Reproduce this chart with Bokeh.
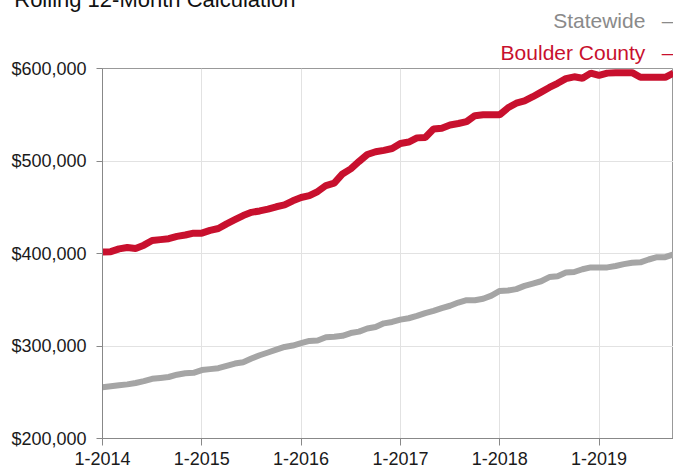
from bokeh.plotting import figure
from bokeh.models import ColumnDataSource, FixedTicker, NumeralTickFormatter, Range1d, Title
from bokeh.embed import file_html
from bokeh.resources import INLINE

# Month index 0 = Jan 2014 ... 69 = Oct 2019
months = list(range(70))

boulder = [401.5, 402, 405, 406.5, 405.5, 409, 414, 415, 416, 418.5,
           420, 422, 422, 425, 427, 432, 436.5, 441, 444.5, 446,
           448, 450.5, 452.5, 457, 460.5, 462.5, 467, 473.5, 476, 486,
           491.5, 499.5, 507, 510, 511.5, 513.5, 519, 520.5, 525, 525.5,
           534.5, 535.5, 539, 540.5, 542.5, 549, 550, 550, 550, 557.5,
           562.5, 565, 569.5, 574.5, 579.5, 584, 589, 591, 589.5, 595,
           592.5, 595, 595.5, 595.5, 595.5, 590.5, 590.5, 590.5, 590.5, 595]

statewide = [255.5, 256.5, 257.5, 258.5, 260, 262, 264.5, 265.5, 266.5, 269,
             270.5, 271, 274, 275, 276, 278.5, 281, 282.5, 286.5, 290,
             293, 296, 299, 300.5, 303, 305.5, 306, 309.5, 310, 311,
             314, 315.5, 319, 320.5, 324.5, 326, 328.5, 330, 332.5, 335.5,
             338, 341, 343.5, 347, 349.5, 349.5, 351, 354.5, 359.5, 360,
             361.5, 365, 367.5, 370, 374.5, 375.5, 379.5, 380, 383, 385,
             385, 385, 386.5, 388.5, 390, 390.5, 393.5, 396, 396, 399]

x_ticks = [0, 12, 24, 36, 48, 60]
x_tick_labels = ["1-2014", "1-2015", "1-2016", "1-2017", "1-2018", "1-2019"]
y_ticks = [200000, 300000, 400000, 500000, 600000]

title_text = "Rolling 12-Month Calculation"
series_names = ["Statewide", "Boulder County"]

RED = "#c8102e"
GRAY = "#a5a5a5"
LEGEND_GRAY = "#8a8a8a"
FONT = "Liberation Sans"
DASH_GAP = "\u2002\u2009\u200a"

src = ColumnDataSource(dict(
    m=months,
    boulder=[v * 1000 for v in boulder],
    state=[v * 1000 for v in statewide],
))

p = figure(width=673, height=468, output_backend="svg", toolbar_location=None,
           x_range=Range1d(0, 69), y_range=Range1d(200000, 600000),
           min_border_left=102, min_border_right=0, min_border_top=68,
           min_border_bottom=30)
p.background_fill_color = "white"
p.border_fill_color = "white"
p.outline_line_color = "#999999"
p.outline_line_width = 1

p.line("m", "state", source=src, line_color=GRAY, line_width=6)
p.line("m", "boulder", source=src, line_color=RED, line_width=7)

p.xaxis.ticker = FixedTicker(ticks=x_ticks)
p.xaxis.major_label_overrides = {t: l for t, l in zip(x_ticks, x_tick_labels)}
p.yaxis.ticker = FixedTicker(ticks=y_ticks)
p.yaxis.formatter = NumeralTickFormatter(format="$0,0")
for ax in (p.xaxis[0], p.yaxis[0]):
    ax.axis_line_color = "#888888"
    ax.major_tick_line_color = "#888888"
    ax.major_tick_in = 0
    ax.minor_tick_line_color = None
    ax.major_label_text_font = FONT
    ax.major_label_text_font_size = "18px"
    ax.major_label_text_color = "#1a1a1a"
p.yaxis.major_tick_out = 6
p.yaxis.major_label_standoff = 10
p.xaxis.major_tick_out = 7
p.xaxis.major_label_standoff = 6
p.xgrid.grid_line_color = "#e2e2e2"
p.ygrid.grid_line_color = "#e2e2e2"
p.xgrid.ticker = FixedTicker(ticks=x_ticks)
p.ygrid.ticker = FixedTicker(ticks=y_ticks)

# legend entries and title stacked in the top panel (first added = closest to the frame)
p.add_layout(Title(text=series_names[1] + DASH_GAP + "\u2013", align="right", offset=0,
                   vertical_align="top", standoff=5, text_font=FONT,
                   text_font_size="21px", text_font_style="normal",
                   text_color=RED), "above")
p.add_layout(Title(text=series_names[0] + DASH_GAP + "\u2013", align="right", offset=0,
                   vertical_align="bottom", standoff=13, text_font=FONT,
                   text_font_size="21px", text_font_style="normal",
                   text_color=LEGEND_GRAY), "above")
p.add_layout(Title(text=title_text, align="right", offset=378,
                   vertical_align="top", standoff=-27, text_font=FONT,
                   text_font_size="22px", text_font_style="normal",
                   text_color="#111111"), "above")

open("out.html", "w").write(file_html(p, INLINE))
